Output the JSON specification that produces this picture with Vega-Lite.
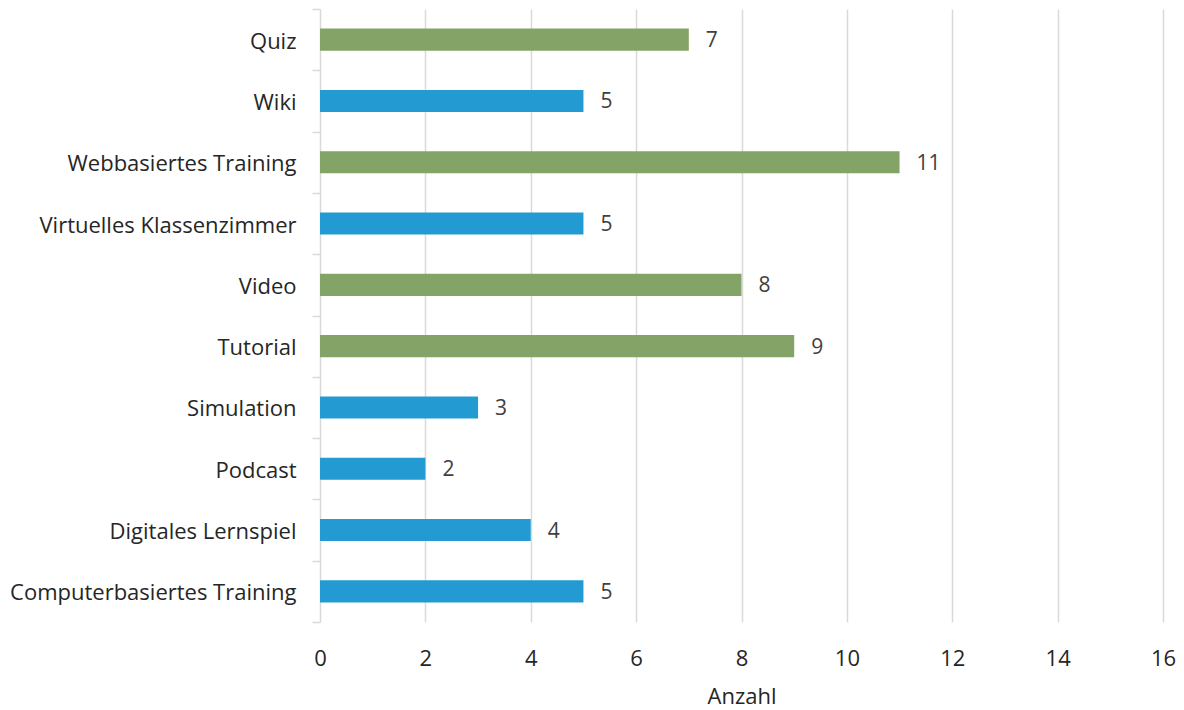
{
  "$schema": "https://vega.github.io/schema/vega-lite/v6.json",
  "width": 843,
  "height": 613,
  "autosize": {"type": "none"},
  "padding": {"left": 320, "top": 9, "right": 21, "bottom": 88},
  "background": "white",
  "config": {
    "view": {"stroke": null},
    "font": "Open Sans"
  },
  "data": {
    "values": [
      {"kategorie": "Quiz", "anzahl": 7, "gruppe": "grün"},
      {"kategorie": "Wiki", "anzahl": 5, "gruppe": "blau"},
      {"kategorie": "Webbasiertes Training", "anzahl": 11, "gruppe": "grün"},
      {"kategorie": "Virtuelles Klassenzimmer", "anzahl": 5, "gruppe": "blau"},
      {"kategorie": "Video", "anzahl": 8, "gruppe": "grün"},
      {"kategorie": "Tutorial", "anzahl": 9, "gruppe": "grün"},
      {"kategorie": "Simulation", "anzahl": 3, "gruppe": "blau"},
      {"kategorie": "Podcast", "anzahl": 2, "gruppe": "blau"},
      {"kategorie": "Digitales Lernspiel", "anzahl": 4, "gruppe": "blau"},
      {"kategorie": "Computerbasiertes Training", "anzahl": 5, "gruppe": "blau"}
    ]
  },
  "encoding": {
    "y": {
      "field": "kategorie",
      "type": "nominal",
      "sort": null,
      "scale": {"paddingInner": 0, "paddingOuter": 0},
      "axis": {
        "title": null,
        "domain": false,
        "ticks": true,
        "tickBand": "extent",
        "tickSize": 8,
        "tickColor": "#D9D9D9",
        "tickWidth": 1.5,
        "labelFontSize": 22,
        "labelColor": "#262626",
        "labelPadding": 16,
        "labelOffset": 1.5,
        "labelFont": "Open Sans",
        "labelLimit": 400
      }
    },
    "x": {
      "field": "anzahl",
      "type": "quantitative",
      "scale": {"domain": [0, 16], "nice": false},
      "axis": {
        "title": "Anzahl",
        "titleFontSize": 22,
        "titleFontWeight": "normal",
        "titleColor": "#262626",
        "titlePadding": 17,
        "values": [0, 2, 4, 6, 8, 10, 12, 14, 16],
        "labelFlush": false,
        "domain": false,
        "ticks": false,
        "grid": true,
        "gridColor": "#D9D9D9",
        "gridWidth": 1.5,
        "labelFontSize": 22,
        "labelColor": "#262626",
        "labelPadding": 26
      }
    }
  },
  "layer": [
    {
      "mark": {"type": "bar", "height": {"band": 0.36}},
      "encoding": {
        "color": {
          "field": "gruppe",
          "type": "nominal",
          "scale": {"domain": ["grün", "blau"], "range": ["#84A366", "#239BD2"]},
          "legend": null
        }
      }
    },
    {
      "mark": {"type": "text", "align": "left", "dx": 17, "dy": 1.5, "fontSize": 21, "color": "#404040"},
      "encoding": {
        "text": {"field": "anzahl", "type": "quantitative"}
      }
    }
  ]
}
